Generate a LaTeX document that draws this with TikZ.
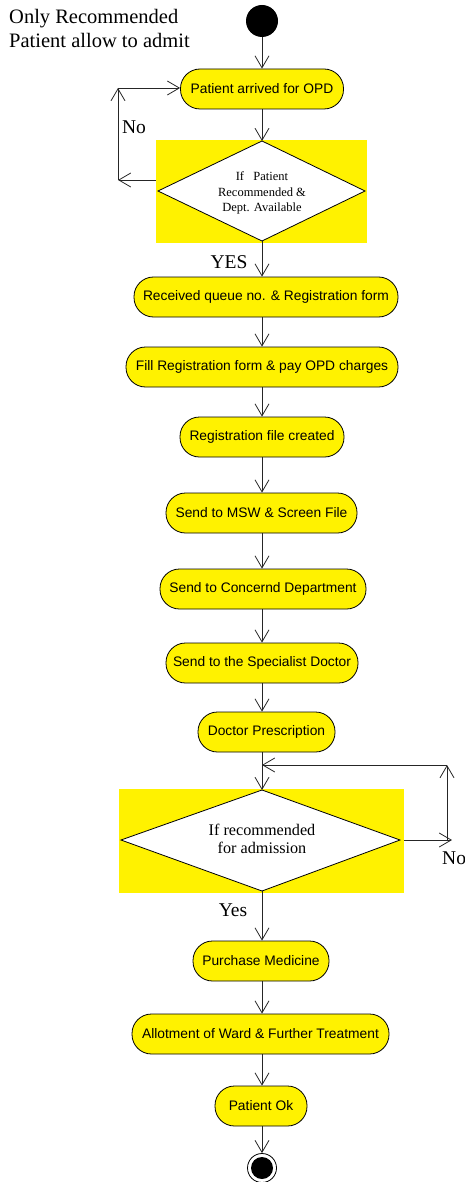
\documentclass[tikz,border=0pt]{standalone}
\usepackage{fontspec}
\setmainfont{Liberation Serif}
\setsansfont{Liberation Sans}
\usetikzlibrary{arrows.meta}
\begin{document}
\begin{tikzpicture}[x=1pt,y=-1pt,
  arr/.style={-{Straight Barb[length=12pt,width=14pt]}, draw=black!85, line width=0.8pt},
  box/.style={draw=black, fill=yellow, line width=0.8pt, rounded corners=19.5pt, minimum height=40pt, inner sep=0pt, font=\sffamily\fontsize{13.8}{16}\selectfont},
  bg/.style={fill=yellow, inner sep=0pt},
  diapath/.style={draw=black, fill=white, line width=0.8pt},
  dtext/.style={align=center, inner sep=0pt},
  lbl/.style={font=\fontsize{19.5}{22}\selectfont, inner sep=0pt}
]
\useasboundingbox (0,0) rectangle (464,1182);

\node[anchor=north west, align=left, inner sep=0pt, font=\fontsize{20.5}{24}\selectfont] (title) at (9,9) {Only Recommended\\Patient allow to admit};

\node[circle, fill=black, minimum size=32pt, inner sep=0pt] (start) at (262,21) {};

\node[box, minimum width=163pt] (n1) at (262,89) {Patient arrived for OPD};

% decision 1
\node[bg, minimum width=211pt, minimum height=103pt] (d1bg) at (261.5,191.5) {};
\coordinate (d1t) at (262,141);
\coordinate (d1r) at (365,191);
\coordinate (d1b) at (262,241);
\coordinate (d1l) at (158,191);
\draw[diapath] (d1t) -- (d1r) -- (d1b) -- (d1l) -- cycle;
\node[dtext, font=\fontsize{12.5}{15.5}\selectfont] (d1) at (262,193) {If\ \ \ Patient\\Recommended \&\\Dept. Available};

\node[box, minimum width=264pt] (n2) at (266,297) {Received queue no. \& Registration form};
\node[box, minimum width=272pt] (n3) at (262,367) {Fill Registration form \& pay OPD charges};
\node[box, minimum width=164pt] (n4) at (262,437) {Registration file created};
\node[box, minimum width=191pt] (n5) at (261.5,513) {Send to MSW \& Screen File};
\node[box, minimum width=206pt] (n6) at (263,589) {Send to Concernd Department};
\node[box, minimum width=192pt] (n7) at (262,663) {Send to the Specialist Doctor};
\node[box, minimum width=137pt] (n8) at (266.5,732) {Doctor Prescription};

% decision 2
\node[bg, minimum width=285pt, minimum height=104pt] (d2bg) at (261.5,841) {};
\coordinate (d2t) at (262,790);
\coordinate (d2r) at (400,840);
\coordinate (d2b) at (262,891);
\coordinate (d2l) at (121,840);
\draw[diapath] (d2t) -- (d2r) -- (d2b) -- (d2l) -- cycle;
\node[dtext, font=\fontsize{16.2}{18}\selectfont] (d2) at (262,839) {If recommended\\for admission};

\node[box, minimum width=136pt] (n9) at (261,961) {Purchase Medicine};
\node[box, minimum width=257pt] (n10) at (260.5,1034) {Allotment of Ward \& Further Treatment};
\node[box, minimum width=92pt] (n11) at (261,1106) {Patient Ok};

\node[circle, draw=black, fill=white, line width=0.8pt, minimum size=29pt, inner sep=0pt] (end) at (262,1168) {};
\node[circle, fill=black, minimum size=22pt, inner sep=0pt] (endin) at (262,1168) {};

% labels
\node[lbl] (lno1) at (134,127) {No};
\node[lbl] (lyes1) at (229,262) {YES};
\node[lbl] (lyes2) at (233,910) {Yes};
\node[lbl, anchor=west] (lno2) at (442,858) {No};

% main flow
\draw[arr] (start) -- (n1);
\draw[arr] (n1) -- (d1t);
\draw[arr] (d1b) -- (n2.north -| d1b);
\draw[arr] (n2.south -| d1b) -- (n3);
\draw[arr] (n3) -- (n4);
\draw[arr] (n4) -- (n5.north -| n4);
\draw[arr] (n5.south -| n4) -- (n6.north -| n4);
\draw[arr] (n6.south -| n4) -- (n7.north -| n4);
\draw[arr] (n7.south -| n4) -- (n8.north -| n4);
\draw[arr] (n8.south -| n4) -- (d2t);
\draw[arr] (d2b) -- (n9.north -| n4);
\draw[arr] (n9.south -| n4) -- (n10.north -| n4);
\draw[arr] (n10.south -| n4) -- (n11.north -| n4);
\draw[arr] (n11.south -| n4) -- (end);

% No loop 1
\coordinate (l1a) at (118,180);
\coordinate (l1b) at (118,88);
\draw[arr] (d1bg.west |- l1a) -- (l1a);
\draw[arr] (l1a) -- (l1b);
\draw[arr] (l1b) -- (n1.west |- l1b);

% No loop 2
\coordinate (l2a) at (452,840);
\coordinate (l2b) at (447,765);
\coordinate (l2c) at (262,765);
\draw[arr] (d2bg.east |- l2a) -- (l2a);
\draw[arr] (l2b |- l2a) -- (l2b);
\draw[arr] (l2b) -- (l2c);
\end{tikzpicture}
\end{document}
